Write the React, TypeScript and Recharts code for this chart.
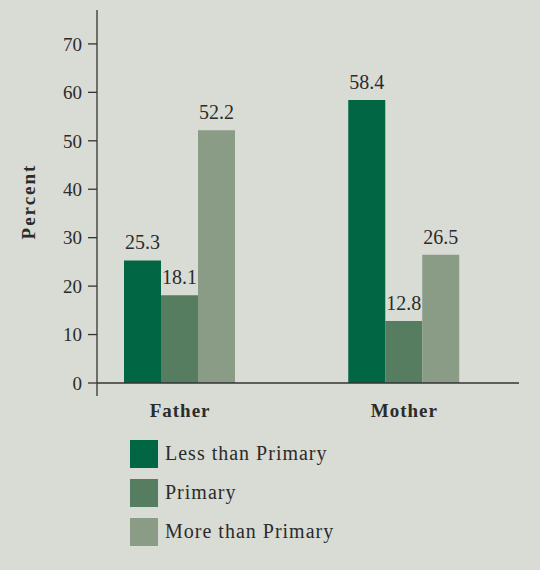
import { Bar, BarChart, LabelList, Legend, XAxis, YAxis } from "recharts";

const parents = ["Father", "Mother"];
const lessThanPrimary = [25.3, 58.4];
const primary = [18.1, 12.8];
const moreThanPrimary = [52.2, 26.5];
const yTicks = [0, 10, 20, 30, 40, 50, 60, 70];

const series = [
  { key: "less", name: "Less than Primary", color: "#006643" },
  { key: "primary", name: "Primary", color: "#567d5f" },
  { key: "more", name: "More than Primary", color: "#8a9b86" },
];

const data = parents.map((parent, i) => ({
  parent,
  less: lessThanPrimary[i],
  primary: primary[i],
  more: moreThanPrimary[i],
}));

const FONT = '"Liberation Serif", "DejaVu Serif", serif';
const INK = "#2b2b2b";
const AXIS = "#333";
const BG = "#d9dcd5";

function CategoryTick({ x, y, payload }: any) {
  return (
    <text
      x={x}
      y={y}
      dy={33}
      textAnchor="middle"
      fontFamily={FONT}
      fontSize={19}
      fontWeight="bold"
      letterSpacing={1}
      fill={INK}
    >
      {payload.value}
    </text>
  );
}

function EmptyTick() {
  return <g />;
}

function LegendBox() {
  return (
    <div style={{ fontFamily: FONT, fontSize: 20, color: INK, letterSpacing: 1 }}>
      {series.map((s) => (
        <div key={s.key} style={{ display: "flex", alignItems: "center", height: 39 }}>
          <span style={{ width: 28, height: 28, background: s.color, display: "inline-block", marginRight: 7 }} />
          <span>{s.name}</span>
        </div>
      ))}
    </div>
  );
}

export default function App() {
  return (
    <div style={{ position: "fixed", left: 0, top: 0, width: 540, height: 570, background: BG }}>
      <BarChart
        width={540}
        height={570}
        data={data}
        margin={{ top: 10, right: 21, bottom: 147, left: 37 }}
        barCategoryGap={56}
        barGap={0}
      >
        <XAxis
          xAxisId="axis"
          type="number"
          domain={[0, 422]}
          ticks={[0, 186, 422]}
          allowDataOverflow
          height={1}
          tick={<EmptyTick />}
          tickSize={13}
          axisLine={{ stroke: AXIS, strokeWidth: 1.3 }}
          tickLine={{ stroke: AXIS, strokeWidth: 1.3 }}
        />
        <XAxis
          xAxisId="cat"
          dataKey="parent"
          height={39}
          padding={{ left: -29, right: 2.5 }}
          axisLine={false}
          tickLine={false}
          tickSize={0}
          tickMargin={0}
          tick={<CategoryTick />}
        />
        <YAxis
          domain={[0, 77]}
          ticks={yTicks}
          width={60}
          tickSize={9}
          tickMargin={6}
          axisLine={{ stroke: AXIS, strokeWidth: 1.3 }}
          tickLine={{ stroke: AXIS, strokeWidth: 1.3 }}
          tick={{ fontFamily: FONT, fontSize: 19, fill: INK }}
          label={{
            value: "Percent",
            angle: -90,
            position: "insideLeft",
            dx: -14,
            dy: 5,
            style: {
              fontFamily: FONT,
              fontSize: 19,
              fontWeight: "bold",
              letterSpacing: 2,
              fill: INK,
              textAnchor: "middle",
            },
          }}
        />
        <Legend
          layout="vertical"
          align="center"
          verticalAlign="middle"
          content={<LegendBox />}
          wrapperStyle={{ left: 130, top: 434, width: 320, height: 120 }}
        />
        {series.map((s) => (
          <Bar key={s.key} xAxisId="cat" dataKey={s.key} name={s.name} fill={s.color} isAnimationActive={false}>
            <LabelList
              dataKey={s.key}
              position="top"
              offset={11}
              style={{ fontFamily: FONT, fontSize: 20, fill: INK }}
            />
          </Bar>
        ))}
      </BarChart>
    </div>
  );
}
